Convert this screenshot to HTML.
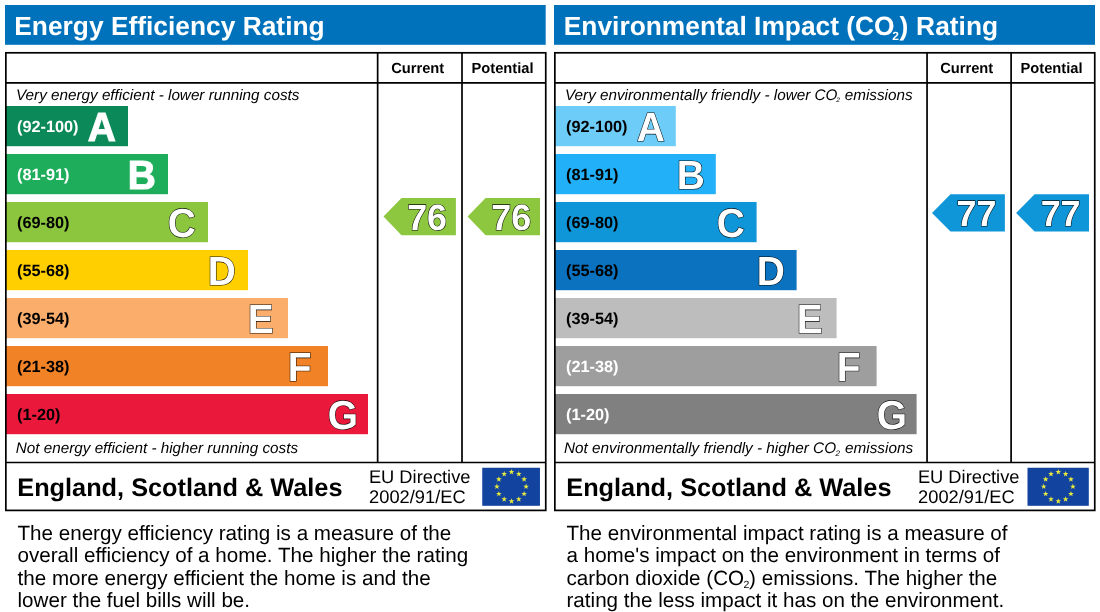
<!DOCTYPE html>
<html lang="en"><head><meta charset="utf-8"><title>Energy Performance Certificate</title>
<style>
html,body{margin:0;padding:0;background:#fff}
svg{display:block}
text{font-family:"Liberation Sans",sans-serif;fill:#000;text-rendering:geometricPrecision}
.ttl{font-size:26.35px;font-weight:bold;fill:#fff}
.hd{font-size:14.7px;font-weight:bold}
.it{font-size:15.25px;font-style:italic}
.rng{font-size:16.3px;font-weight:bold}
.w{fill:#fff}
.let{font-size:38.9px;font-weight:bold;fill:#fff;stroke:rgba(0,0,0,.95);stroke-width:1.1px;paint-order:stroke fill}
.soft{stroke:rgba(255,255,255,.92)}
.num{font-size:35.9px;font-weight:bold;fill:#fff;stroke:rgba(0,0,0,.95);stroke-width:1.1px;paint-order:stroke fill}
.esw{font-size:25.3px;font-weight:bold}
.eu{font-size:18.3px}
.p{font-size:20.62px}
</style></head><body>
<svg width="1100" height="612" viewBox="0 0 1100 612">
<rect width="1100" height="612" fill="#fff"/>
<rect x="5" y="5" width="540.7" height="39.8" fill="#0072BC"/>
<text x="14.3" y="35" class="ttl">Energy Efficiency Rating</text>
<rect x="6" y="106" width="122" height="40.2" fill="#0c8959"/>
<text x="17" y="131.6" class="rng w">(92-100)</text>
<text transform="translate(87.8 141) scale(1 1.045)" class="let soft">A</text>
<rect x="6" y="154" width="162" height="40.2" fill="#1eae5b"/>
<text x="17" y="179.6" class="rng w">(81-91)</text>
<text transform="translate(127.8 189) scale(1 1.045)" class="let soft">B</text>
<rect x="6" y="202" width="202" height="40.2" fill="#8cc63f"/>
<text x="17" y="227.6" class="rng">(69-80)</text>
<text transform="translate(167.8 237) scale(1 1.045)" class="let">C</text>
<rect x="6" y="250" width="242" height="40.2" fill="#ffcf00"/>
<text x="17" y="275.6" class="rng">(55-68)</text>
<text transform="translate(207.8 285) scale(1 1.045)" class="let">D</text>
<rect x="6" y="298" width="282" height="40.2" fill="#fbad6b"/>
<text x="17" y="323.6" class="rng">(39-54)</text>
<text transform="translate(247.8 333) scale(1 1.045)" class="let">E</text>
<rect x="6" y="346" width="322" height="40.2" fill="#f18225"/>
<text x="17" y="371.6" class="rng">(21-38)</text>
<text transform="translate(287.8 381) scale(1 1.045)" class="let">F</text>
<rect x="6" y="394" width="362" height="40.2" fill="#ea193c"/>
<text x="17" y="419.6" class="rng">(1-20)</text>
<text transform="translate(327.8 429) scale(1 1.045)" class="let">G</text>
<rect x="5.85" y="52.8" width="539.9" height="457.6" fill="none" stroke="#000" stroke-width="1.7"/>
<path d="M5.85 82.9H545.75M5.85 462.5H545.75M377.65 52.8V462.5M462 52.8V462.5" fill="none" stroke="#000" stroke-width="1.7"/>
<text x="391.2" y="73.2" class="hd">Current</text>
<text x="471.5" y="73.2" class="hd">Potential</text>
<text x="16" y="99.5" class="it">Very energy efficient - lower running costs</text>
<text x="15.8" y="453.3" class="it">Not energy efficient - higher running costs</text>
<text x="17.3" y="495.7" class="esw">England, Scotland &amp; Wales</text>
<text x="368.9" y="482.5" class="eu">EU Directive</text>
<text x="369.1" y="503.2" class="eu">2002/91/EC</text>
<rect x="482.25" y="467.75" width="57.7" height="38.05" fill="#12439e"/>
<polygon points="511.50,469.00 512.21,471.03 514.35,471.07 512.64,472.37 513.26,474.43 511.50,473.20 509.74,474.43 510.36,472.37 508.65,471.07 510.79,471.03" fill="#e8ea3e"/>
<polygon points="518.80,470.96 519.51,472.99 521.65,473.03 519.94,474.33 520.56,476.38 518.80,475.16 517.04,476.38 517.66,474.33 515.95,473.03 518.09,472.99" fill="#e8ea3e"/>
<polygon points="524.14,476.30 524.85,478.33 527.00,478.37 525.29,479.67 525.91,481.73 524.14,480.50 522.38,481.73 523.00,479.67 521.29,478.37 523.44,478.33" fill="#e8ea3e"/>
<polygon points="526.10,483.60 526.81,485.63 528.95,485.67 527.24,486.97 527.86,489.03 526.10,487.80 524.34,489.03 524.96,486.97 523.25,485.67 525.39,485.63" fill="#e8ea3e"/>
<polygon points="524.14,490.90 524.85,492.93 527.00,492.97 525.29,494.27 525.91,496.33 524.14,495.10 522.38,496.33 523.00,494.27 521.29,492.97 523.44,492.93" fill="#e8ea3e"/>
<polygon points="518.80,496.24 519.51,498.27 521.65,498.32 519.94,499.61 520.56,501.67 518.80,500.44 517.04,501.67 517.66,499.61 515.95,498.32 518.09,498.27" fill="#e8ea3e"/>
<polygon points="511.50,498.20 512.21,500.23 514.35,500.27 512.64,501.57 513.26,503.63 511.50,502.40 509.74,503.63 510.36,501.57 508.65,500.27 510.79,500.23" fill="#e8ea3e"/>
<polygon points="504.20,496.24 504.91,498.27 507.05,498.32 505.34,499.61 505.96,501.67 504.20,500.44 502.44,501.67 503.06,499.61 501.35,498.32 503.49,498.27" fill="#e8ea3e"/>
<polygon points="498.86,490.90 499.56,492.93 501.71,492.97 500.00,494.27 500.62,496.33 498.86,495.10 497.09,496.33 497.71,494.27 496.00,492.97 498.15,492.93" fill="#e8ea3e"/>
<polygon points="496.90,483.60 497.61,485.63 499.75,485.67 498.04,486.97 498.66,489.03 496.90,487.80 495.14,489.03 495.76,486.97 494.05,485.67 496.19,485.63" fill="#e8ea3e"/>
<polygon points="498.86,476.30 499.56,478.33 501.71,478.37 500.00,479.67 500.62,481.73 498.86,480.50 497.09,481.73 497.71,479.67 496.00,478.37 498.15,478.33" fill="#e8ea3e"/>
<polygon points="504.20,470.96 504.91,472.99 507.05,473.03 505.34,474.33 505.96,476.38 504.20,475.16 502.44,476.38 503.06,474.33 501.35,473.03 503.49,472.99" fill="#e8ea3e"/>
<polygon points="383.5,216.6 401.5,198 455.9,198 455.9,235.2 401.5,235.2" fill="#8dc63f"/>
<text transform="translate(407.15 230.0) scale(1 1.018)" class="num">76</text>
<polygon points="467.6,216.6 485.6,198 540.0,198 540.0,235.2 485.6,235.2" fill="#8dc63f"/>
<text transform="translate(491.25 230.0) scale(1 1.018)" class="num">76</text>
<rect x="554" y="5" width="541" height="39.8" fill="#0072BC"/>
<text x="563.8" y="35" class="ttl">Environmental Impact (CO<tspan font-size="12" dy="5" dx="-2.3">2</tspan><tspan dy="-5" dx="0.4">)</tspan><tspan dx="0.6"> Rating</tspan></text>
<rect x="555" y="106" width="120.8" height="40.2" fill="#6ecdf8"/>
<text x="566" y="131.6" class="rng">(92-100)</text>
<text transform="translate(636.8 141) scale(1 1.045)" class="let">A</text>
<rect x="555" y="154" width="160.8" height="40.2" fill="#22b1f8"/>
<text x="566" y="179.6" class="rng">(81-91)</text>
<text transform="translate(676.8 189) scale(1 1.045)" class="let">B</text>
<rect x="555" y="202" width="201.6" height="40.2" fill="#0f96d8"/>
<text x="566" y="227.6" class="rng">(69-80)</text>
<text transform="translate(716.8 237) scale(1 1.045)" class="let">C</text>
<rect x="555" y="250" width="241.6" height="40.2" fill="#0a72be"/>
<text x="566" y="275.6" class="rng">(55-68)</text>
<text transform="translate(756.8 285) scale(1 1.045)" class="let">D</text>
<rect x="555" y="298" width="281.6" height="40.2" fill="#bdbdbd"/>
<text x="566" y="323.6" class="rng">(39-54)</text>
<text transform="translate(796.8 333) scale(1 1.045)" class="let">E</text>
<rect x="555" y="346" width="321.6" height="40.2" fill="#9e9e9e"/>
<text x="566" y="371.6" class="rng w">(21-38)</text>
<text transform="translate(836.8 381) scale(1 1.045)" class="let">F</text>
<rect x="555" y="394" width="361.6" height="40.2" fill="#808080"/>
<text x="566" y="419.6" class="rng w">(1-20)</text>
<text transform="translate(876.8 429) scale(1 1.045)" class="let">G</text>
<rect x="554.85" y="52.8" width="539.9" height="457.6" fill="none" stroke="#000" stroke-width="1.7"/>
<path d="M554.85 82.9H1094.75M554.85 462.5H1094.75M927.05 52.8V462.5M1011.1 52.8V462.5" fill="none" stroke="#000" stroke-width="1.7"/>
<text x="940.2" y="73.2" class="hd">Current</text>
<text x="1020.5" y="73.2" class="hd">Potential</text>
<text x="565" y="99.5" class="it">Very environmentally friendly - lower CO<tspan font-size="6.5" dy="2.8" dx="-1.2">2</tspan><tspan dy="-2.8" dx="0.8"> emissions</tspan></text>
<text x="564" y="453.3" class="it" style="font-size:15.3px">Not environmentally friendly - higher CO<tspan font-size="8" dy="2.8" dx="-0.6">2</tspan><tspan dy="-2.8" dx="0.9"> emissions</tspan></text>
<text x="566.3" y="495.7" class="esw">England, Scotland &amp; Wales</text>
<text x="917.9" y="482.5" class="eu">EU Directive</text>
<text x="918.1" y="503.2" class="eu">2002/91/EC</text>
<rect x="1027.5" y="467.75" width="61.3" height="38.05" fill="#12439e"/>
<polygon points="1058.30,469.00 1059.01,471.03 1061.15,471.07 1059.44,472.37 1060.06,474.43 1058.30,473.20 1056.54,474.43 1057.16,472.37 1055.45,471.07 1057.59,471.03" fill="#e8ea3e"/>
<polygon points="1065.60,470.96 1066.31,472.99 1068.45,473.03 1066.74,474.33 1067.36,476.38 1065.60,475.16 1063.84,476.38 1064.46,474.33 1062.75,473.03 1064.89,472.99" fill="#e8ea3e"/>
<polygon points="1070.94,476.30 1071.65,478.33 1073.80,478.37 1072.09,479.67 1072.71,481.73 1070.94,480.50 1069.18,481.73 1069.80,479.67 1068.09,478.37 1070.24,478.33" fill="#e8ea3e"/>
<polygon points="1072.90,483.60 1073.61,485.63 1075.75,485.67 1074.04,486.97 1074.66,489.03 1072.90,487.80 1071.14,489.03 1071.76,486.97 1070.05,485.67 1072.19,485.63" fill="#e8ea3e"/>
<polygon points="1070.94,490.90 1071.65,492.93 1073.80,492.97 1072.09,494.27 1072.71,496.33 1070.94,495.10 1069.18,496.33 1069.80,494.27 1068.09,492.97 1070.24,492.93" fill="#e8ea3e"/>
<polygon points="1065.60,496.24 1066.31,498.27 1068.45,498.32 1066.74,499.61 1067.36,501.67 1065.60,500.44 1063.84,501.67 1064.46,499.61 1062.75,498.32 1064.89,498.27" fill="#e8ea3e"/>
<polygon points="1058.30,498.20 1059.01,500.23 1061.15,500.27 1059.44,501.57 1060.06,503.63 1058.30,502.40 1056.54,503.63 1057.16,501.57 1055.45,500.27 1057.59,500.23" fill="#e8ea3e"/>
<polygon points="1051.00,496.24 1051.71,498.27 1053.85,498.32 1052.14,499.61 1052.76,501.67 1051.00,500.44 1049.24,501.67 1049.86,499.61 1048.15,498.32 1050.29,498.27" fill="#e8ea3e"/>
<polygon points="1045.66,490.90 1046.36,492.93 1048.51,492.97 1046.80,494.27 1047.42,496.33 1045.66,495.10 1043.89,496.33 1044.51,494.27 1042.80,492.97 1044.95,492.93" fill="#e8ea3e"/>
<polygon points="1043.70,483.60 1044.41,485.63 1046.55,485.67 1044.84,486.97 1045.46,489.03 1043.70,487.80 1041.94,489.03 1042.56,486.97 1040.85,485.67 1042.99,485.63" fill="#e8ea3e"/>
<polygon points="1045.66,476.30 1046.36,478.33 1048.51,478.37 1046.80,479.67 1047.42,481.73 1045.66,480.50 1043.89,481.73 1044.51,479.67 1042.80,478.37 1044.95,478.33" fill="#e8ea3e"/>
<polygon points="1051.00,470.96 1051.71,472.99 1053.85,473.03 1052.14,474.33 1052.76,476.38 1051.00,475.16 1049.24,476.38 1049.86,474.33 1048.15,473.03 1050.29,472.99" fill="#e8ea3e"/>
<polygon points="932.0,212.9 950.5,194.3 1004.9,194.3 1004.9,231.5 950.5,231.5" fill="#0f96d8"/>
<text transform="translate(956.55 226.3) scale(1 1.018)" class="num">77</text>
<polygon points="1016.1,212.9 1034.6,194.3 1089.0,194.3 1089.0,231.5 1034.6,231.5" fill="#0f96d8"/>
<text transform="translate(1040.65 226.3) scale(1 1.018)" class="num">77</text>
<text x="17.5" y="540.1" class="p">The energy efficiency rating is a measure of the</text>
<text x="17.5" y="562.3" class="p">overall efficiency of a home. The higher the rating</text>
<text x="17.5" y="584.5" class="p">the more energy efficient the home is and the</text>
<text x="17.5" y="606.7" class="p">lower the fuel bills will be.</text>
<text x="566.5" y="540.1" class="p">The environmental impact rating is a measure of</text>
<text x="566.5" y="562.3" class="p">a home's impact on the environment in terms of</text>
<text x="566.5" y="584.5" class="p">carbon dioxide (CO<tspan font-size="10.5" dy="3.5" dx="-0.6">2</tspan><tspan dy="-3.5" dx="-0.2">) emissions. The higher the</tspan></text>
<text x="566.5" y="606.7" class="p">rating the less impact it has on the environment.</text>
</svg>
</body></html>
